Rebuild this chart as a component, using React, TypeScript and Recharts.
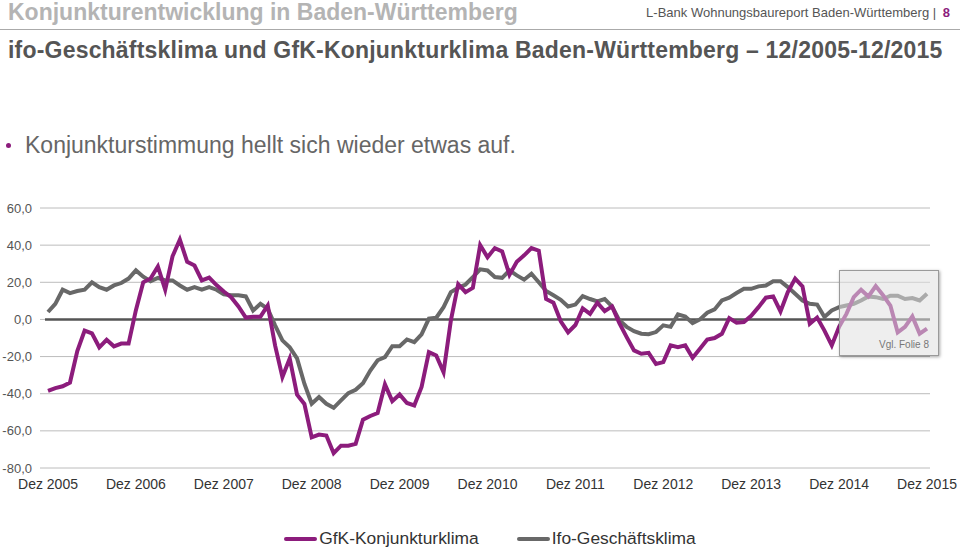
import React from "react";
import {
  LineChart,
  Line,
  XAxis,
  YAxis,
  CartesianGrid,
  ReferenceLine,
} from "recharts";

// monthly values, Dez 2005 .. Dez 2015 (121 months)
const gfkValues = [
  -38.5, -37, -36, -34, -17, -6, -7.5, -15, -11, -14.5, -13, -13,
  5, 20, 22, 28.5, 16, 34, 43, 31, 29, 21, 22.5, 18.5,
  15, 12, 7, 1, 1.5, 1.5, 7.5, -14, -31, -21, -40.5, -45.5,
  -63.5, -62, -62.5, -72, -68, -68, -67, -54, -52, -50.4, -35, -44,
  -40.4, -45, -46.3, -36.4, -17.6, -19.4, -28.4, -0.5, 19, 14.7, 17, 40,
  33.5, 38.4, 36.6, 24, 31, 34.5, 38.4, 37, 11, 9, -1, -7,
  -3, 6, 3, 9, 4.5, 7, -2, -9.5, -16.7, -18.5, -18, -24,
  -23, -14, -15, -14, -20.6, -15.8, -10.8, -10, -7.7, 0.7, -1.8, -1.4,
  2, 6.6, 11.7, 12.4, 4.3, 14.7, 22, 17.8, -2.3, 1, -6, -14,
  -4, 3, 12, 16, 12.4, 18, 13, 7.5, -7, -4, 1.6, -7.7,
  -5,
];

const ifoValues = [
  4, 8.4, 16, 14.2, 15.3, 16, 20, 17.4, 16, 18.3, 19.6, 22,
  26.4, 23, 20.6, 22.4, 21, 21, 18.3, 16, 17.4, 16, 17.4, 16,
  13.5, 13, 13, 12.4, 4.8, 8.4, 5.7, -3.2, -11.3, -15, -21, -34.6,
  -45.4, -41.8, -45.4, -47.6, -43.6, -39.7, -37.9, -34.3, -27.5, -22, -20.3, -14.4,
  -14.4, -10.8, -12.2, -8, 0.4, 0.9, 6.6, 14.7, 17, 18.8, 22.8, 27,
  26.4, 22.8, 22.4, 26.4, 23.7, 21.4, 24.6, 20, 15.3, 13, 10.6, 7,
  8, 12.6, 11, 9.7, 11, 7, -0.5, -4, -6.3, -7.7, -8, -6.8,
  -3.2, -4, 2.7, 1.6, -2, 0, 3.6, 5.4, 10.2, 11.7, 14.2, 16.5,
  16.5, 17.8, 18.3, 20.6, 20.6, 17.4, 13.8, 10.2, 8.4, 8, 1.3, 4.8,
  6.6, 7.5, 8.4, 10.2, 12.4, 12, 11, 12.8, 12.8, 11, 11.5, 10.2,
  13.8,
];

const yearLabels = [
  "Dez 2005", "Dez 2006", "Dez 2007", "Dez 2008", "Dez 2009", "Dez 2010",
  "Dez 2011", "Dez 2012", "Dez 2013", "Dez 2014", "Dez 2015",
];

const yTicks = [-80, -60, -40, -20, 0, 20, 40, 60];

const PURPLE = "#8c1c7c";
const GRAY = "#686868";

const data = gfkValues.map((v, i) => ({ i, gfk: v, ifo: ifoValues[i] }));
const xTicks = yearLabels.map((_, k) => k * 12);

const legendItems = [
  { label: "GfK-Konjunkturklima", color: PURPLE },
  { label: "Ifo-Geschäftsklima", color: GRAY },
];

export default function App() {
  return (
    <div
      style={{
        position: "absolute",
        left: 0,
        top: 0,
        width: 960,
        height: 550,
        background: "#fff",
        fontFamily: "'Liberation Sans', Arial, sans-serif",
        overflow: "hidden",
      }}
    >
      <div
        style={{
          position: "absolute",
          left: 8,
          top: 0,
          fontSize: 23,
          lineHeight: "24px",
          fontWeight: "bold",
          color: "#b4b4b4",
          whiteSpace: "nowrap",
        }}
      >
        Konjunkturentwicklung in Baden-Württemberg
      </div>
      <div
        style={{
          position: "absolute",
          right: 10,
          top: 5,
          fontSize: 13,
          color: "#555",
        }}
      >
        L-Bank Wohnungsbaureport Baden-Württemberg |{" "}
        <b style={{ color: PURPLE, marginLeft: 3 }}>8</b>
      </div>
      <div
        style={{
          position: "absolute",
          left: 0,
          top: 29,
          width: 960,
          height: 1,
          background: "#aaa",
        }}
      />
      <div
        style={{
          position: "absolute",
          left: 8,
          top: 36,
          fontSize: 23,
          lineHeight: "28px",
          fontWeight: "bold",
          color: "#555",
          whiteSpace: "nowrap",
          letterSpacing: 0.2,
        }}
      >
        ifo-Geschäftsklima und GfK-Konjunkturklima Baden-Württemberg – 12/2005-12/2015
      </div>
      <div
        style={{
          position: "absolute",
          left: 6,
          top: 131,
          fontSize: 23,
          lineHeight: "28px",
          color: "#666",
          display: "flex",
          alignItems: "center",
          whiteSpace: "nowrap",
        }}
      >
        <span
          style={{
            display: "inline-block",
            width: 5,
            height: 5,
            borderRadius: 3,
            background: PURPLE,
            marginRight: 14,
          }}
        />
        Konjunkturstimmung hellt sich wieder etwas auf.
      </div>

      <div style={{ position: "absolute", left: 0, top: 0 }}>
        <LineChart
          width={960}
          height={550}
          data={data}
          margin={{ top: 208, right: 30, bottom: 52, left: 0 }}
        >
          <CartesianGrid vertical={false} stroke="#bcbcbc" strokeWidth={1} />
          <XAxis
            dataKey="i"
            type="number"
            domain={[0, 120]}
            ticks={xTicks}
            interval={0}
            height={30}
            tickFormatter={(v: number) => yearLabels[v / 12]}
            axisLine={false}
            tickLine={false}
            tickSize={0}
            tickMargin={11}
            padding={{ left: 3, right: 3 }}
            tick={{ fill: "#333", fontSize: 14 }}
          />
          <YAxis
            width={45}
            domain={[-80, 60]}
            ticks={yTicks}
            interval={0}
            tickFormatter={(v: number) => v.toFixed(1).replace(".", ",")}
            axisLine={false}
            tickLine={{ stroke: "#bcbcbc" }}
            tickSize={5}
            tickMargin={8}
            tick={{ fill: "#555", fontSize: 13 }}
          />
          <ReferenceLine y={0} stroke="#555" strokeWidth={2.5} />
          <Line
            type="linear"
            dataKey="ifo"
            name="Ifo-Geschäftsklima"
            stroke={GRAY}
            strokeWidth={4}
            dot={false}
            isAnimationActive={false}
          />
          <Line
            type="linear"
            dataKey="gfk"
            name="GfK-Konjunkturklima"
            stroke={PURPLE}
            strokeWidth={4}
            dot={false}
            isAnimationActive={false}
          />
        </LineChart>
      </div>

      <div
        style={{
          position: "absolute",
          left: 10,
          top: 528,
          width: 960,
          display: "flex",
          justifyContent: "center",
          gap: 38,
        }}
      >
        {legendItems.map((it) => (
          <div key={it.label} style={{ display: "flex", alignItems: "center" }}>
            <span
              style={{
                display: "inline-block",
                width: 33,
                height: 4,
                background: it.color,
                borderRadius: 2,
                marginRight: 2,
              }}
            />
            <span style={{ fontSize: 17.4, color: "#333" }}>{it.label}</span>
          </div>
        ))}
      </div>

      <div
        style={{
          position: "absolute",
          left: 839,
          top: 270,
          width: 100,
          height: 86,
          background: "rgba(224,224,224,0.55)",
          border: "1.5px solid #9a9a9a",
          boxShadow: "1px 1px 3px rgba(0,0,0,0.35)",
          boxSizing: "border-box",
        }}
      >
        <div
          style={{
            position: "absolute",
            right: 9,
            bottom: 5,
            fontSize: 10,
            color: "#777",
          }}
        >
          Vgl. Folie 8
        </div>
      </div>
    </div>
  );
}
